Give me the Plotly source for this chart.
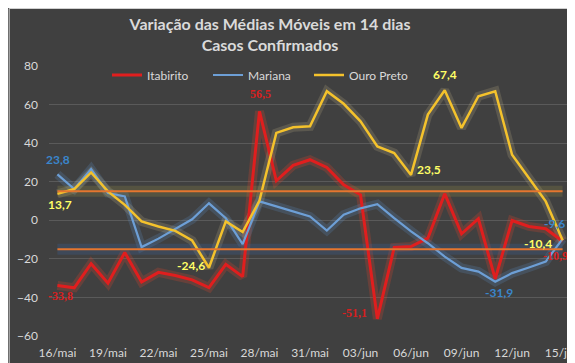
import plotly.graph_objects as go

dates = [f"{d}/mai" for d in range(16, 32)] + [f"{d:02d}/jun" for d in range(1, 16)]

itabirito = [-33.8, -35.0, -22.5, -32.6, -16.7, -32.0, -27.0, -28.6, -30.9, -34.9, -22.8, -29.2,
             56.5, 20.5, 28.5, 31.4, 27.4, 18.4, 13.2, -51.1, -14.1, -13.6, -9.3, 13.8, -7.0,
             0.8, -30.4, -0.1, -3.2, -4.4, -10.9]
mariana = [23.8, 16.2, 26.6, 14.1, 12.4, -13.9, -9.5, -4.5, 0.5, 8.8, 1.1, -12.4,
           9.8, 7.2, 4.6, 2.0, -5.3, 2.9, 6.2, 8.4, 1.1, -5.8, -11.9, -18.8, -24.7,
           -26.6, -31.9, -27.4, -24.5, -21.4, -9.6]
ouro_preto = [13.7, 16.2, 24.8, 15.0, 8.0, -0.6, -3.2, -5.5, -10.5, -24.6, -0.6, -6.1,
              10.2, 45.3, 48.2, 48.7, 66.9, 60.4, 51.3, 38.3, 34.9, 23.5, 54.8, 67.4, 47.9,
              64.3, 66.9, 34.0, 21.9, 9.8, -10.4]
upper_ref = [15] * len(dates)
lower_ref = [-15] * len(dates)

tick_dates = dates[::3]
y_ticks = [-60, -40, -20, 0, 20, 40, 60, 80]

RED = "#e01e1e"
BLUE = "#6d9fd6"
YELLOW = "#f4c22c"
ORANGE = "#e5762f"
BG = "#404040"

fig = go.Figure()

# glow layers
glows = [
    (itabirito, "rgba(235,70,40,0.22)"),
    (mariana, "rgba(100,160,230,0.18)"),
    (ouro_preto, "rgba(255,235,170,0.14)"),
]
for vals, col in glows:
    fig.add_trace(go.Scatter(x=dates, y=vals, mode="lines", line=dict(color=col, width=9),
                             hoverinfo="skip", showlegend=False))
fig.add_trace(go.Scatter(x=dates, y=upper_ref, mode="lines",
                         line=dict(color="rgba(170,160,70,0.20)", width=11),
                         hoverinfo="skip", showlegend=False))
fig.add_trace(go.Scatter(x=dates, y=lower_ref, mode="lines",
                         line=dict(color="rgba(60,95,150,0.30)", width=11),
                         hoverinfo="skip", showlegend=False))

fig.add_trace(go.Scatter(x=dates, y=itabirito, mode="lines", name="Itabirito",
                         line=dict(color=RED, width=3)))
fig.add_trace(go.Scatter(x=dates, y=mariana, mode="lines", name="Mariana",
                         line=dict(color=BLUE, width=2.2)))
fig.add_trace(go.Scatter(x=dates, y=ouro_preto, mode="lines", name="Ouro Preto",
                         line=dict(color=YELLOW, width=2.5)))
fig.add_trace(go.Scatter(x=dates, y=upper_ref, mode="lines", line=dict(color=ORANGE, width=2),
                         hoverinfo="skip", showlegend=False))
fig.add_trace(go.Scatter(x=dates, y=lower_ref, mode="lines", line=dict(color=ORANGE, width=2),
                         hoverinfo="skip", showlegend=False))

def fmt(v):
    return f"{v:.1f}".replace(".", ",")

labels = [
    (mariana, 0, 1, 15, "#3a86cc", "Lato"),
    (ouro_preto, 0, 3, -11, "#ffff66", "Lato"),
    (itabirito, 0, 3, -11, "#d81f1f", "Liberation Serif"),
    (ouro_preto, 9, -18, 2, "#ffff66", "Lato"),
    (itabirito, 12, 1, 17, "#d81f1f", "Liberation Serif"),
    (itabirito, 19, -23, 6, "#d81f1f", "Liberation Serif"),
    (ouro_preto, 23, 0, 16, "#ffff66", "Lato"),
    (ouro_preto, 21, 18, 5, "#ffff66", "Lato"),
    (mariana, 26, 4, -11, "#3a86cc", "Lato"),
    (ouro_preto, 30, -25, -3, "#ffff66", "Lato"),
    (mariana, 30, -8, 15, "#3a86cc", "Lato"),
    (itabirito, 30, -7, -15, "#d81f1f", "Liberation Serif"),
]
for vals, i, xs, ys, col, fam in labels:
    fig.add_annotation(x=dates[i], y=vals[i], text=f"<b>{fmt(vals[i])}</b>", showarrow=False,
                       xref="x", yref="y", xshift=xs, yshift=ys,
                       font=dict(family=fam, size=12, color=col))

W, H = 575, 363
ML, MR, MT, MB = 41, 3, 58, 35
pw = W - ML - MR
ph = H - MT - MB

fig.add_shape(type="rect", xref="paper", yref="paper",
              x0=-(ML - 0.5) / pw, x1=1 + (MR - 0.5) / pw,
              y0=-(MB - 0.5) / ph, y1=1 + (MT - 0.5) / ph,
              line=dict(color="#d0d0d0", width=1), layer="below")

fig.update_layout(
    width=W, height=H,
    margin=dict(l=ML, r=MR, t=MT, b=MB),
    paper_bgcolor=BG, plot_bgcolor=BG,
    title=dict(text="<b>Variação das Médias Móveis em 14 dias</b><br><b>Casos Confirmados</b>",
               x=262 / W, xanchor="center", xref="container", y=1 - 22 / H, yanchor="top",
               font=dict(family="Lato", size=16, color="#dadada")),
    legend=dict(orientation="h", x=(100 - ML) / pw, xanchor="left",
                y=1 - 9 / ph, yanchor="middle", bgcolor="rgba(0,0,0,0)",
                font=dict(family="Lato", size=12, color="#d9d9d9"), entrywidth=56,
                itemwidth=30),
    xaxis=dict(type="category", range=[-0.5, 30.5], tickmode="array", tickvals=tick_dates,
               ticktext=tick_dates, showgrid=False, zeroline=False, showline=False,
               ticks="", ticklabelstandoff=8,
               tickfont=dict(family="Lato", size=12, color="#d9d9d9")),
    yaxis=dict(range=[-60, 80], tickvals=y_ticks, showgrid=True, gridcolor="#5a5a5a",
               gridwidth=1, zeroline=True, zerolinecolor="#5a5a5a", zerolinewidth=1,
               showline=False, ticks="", ticklabelstandoff=10,
               tickfont=dict(family="Lato", size=12, color="#d9d9d9")),
    showlegend=True,
)

fig.write_html("out.html")
